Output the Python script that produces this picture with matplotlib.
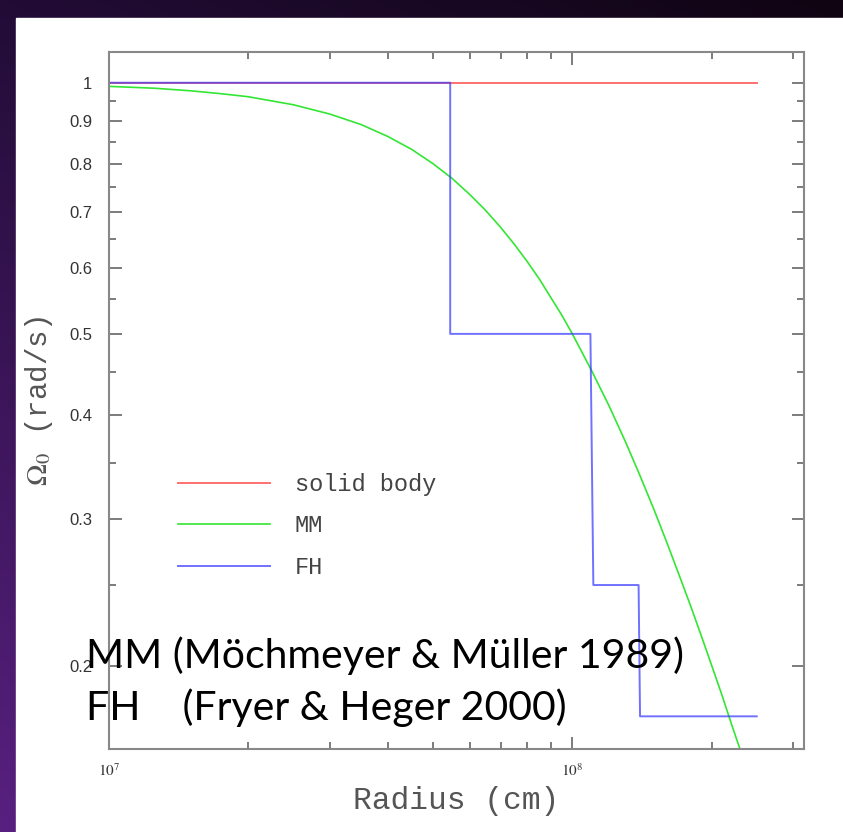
import numpy as np
import matplotlib
matplotlib.use("Agg")
import matplotlib.pyplot as plt
from matplotlib.patches import Rectangle
from matplotlib.ticker import FixedLocator, FixedFormatter, NullFormatter
from matplotlib.font_manager import FontProperties

plt.rcParams['mathtext.fontset'] = 'stix'

# solid body rotation: flat at 1 rad/s
solid_r = [1.0e7, 2.5e8]
solid_w = [1.0, 1.0]

# MM profile (radius in cm, omega in rad/s)
mm_r = [1.0e7, 1.25e7, 1.5e7, 1.75e7, 2.0e7, 2.5e7, 3.0e7, 3.5e7, 4.0e7, 4.5e7,
        5.0e7, 5.5e7, 6.0e7, 6.5e7, 7.0e7, 7.5e7, 8.0e7, 8.5e7, 9.0e7, 9.5e7,
        1.0e8, 1.1e8, 1.2e8, 1.3e8, 1.4e8, 1.5e8, 1.6e8, 1.7e8, 1.8e8, 1.9e8,
        2.0e8, 2.1e8, 2.2e8, 2.3e8, 2.4e8]
mm_w = [0.990, 0.985, 0.978, 0.970, 0.962, 0.941, 0.917, 0.891, 0.862, 0.832,
        0.800, 0.768, 0.735, 0.703, 0.671, 0.640, 0.610, 0.581, 0.552, 0.526,
        0.500, 0.452, 0.410, 0.372, 0.338, 0.308, 0.281, 0.257, 0.236, 0.217,
        0.200, 0.185, 0.171, 0.159, 0.148]

# FH step profile
fh_r = [1.0e7, 5.45e7, 5.45e7, 1.094e8, 1.11e8, 1.39e8, 1.40e8, 2.5e8]
fh_w = [1.0, 1.0, 0.5, 0.5, 0.25, 0.25, 0.174, 0.174]

labels = ['solid body', 'MM', 'FH']

x_major = [1e7, 1e8]
x_tick_labels = [r'$10^{7}$', r'$10^{8}$']
y_major = [0.2, 0.3, 0.4, 0.5, 0.6, 0.7, 0.8, 0.9, 1.0]
y_tick_labels = ['0.2', '0.3', '0.4', '0.5', '0.6', '0.7', '0.8', '0.9', '1']
y_minor = [0.25, 0.35, 0.45, 0.55, 0.65, 0.75, 0.85, 0.95]

W, H = 843, 832
fig = plt.figure(figsize=(W / 100, H / 100), dpi=100)

# slide background: purple gradient with a white panel on top
bg = fig.add_axes([0, 0, 1, 1], zorder=-10)
tl = np.array([0x22, 0x0c, 0x36]) / 255
tr = np.array([0x10, 0x04, 0x12]) / 255
bl = np.array([0x58, 0x20, 0x80]) / 255
br = np.array([0x3a, 0x10, 0x50]) / 255
u = np.linspace(0, 1, 200)[None, :, None]
v = np.linspace(0, 1, 200)[:, None, None]
grad = (1 - v) * ((1 - u) * tl + u * tr) + v * ((1 - u) * bl + u * br)
bg.imshow(grad, extent=[0, 1, 0, 1], aspect='auto', origin='upper')
bg.add_patch(Rectangle((16 / W, 0), 1 - 16 / W, 1 - 18 / H, color='white'))
bg.set_xlim(0, 1)
bg.set_ylim(0, 1)
bg.axis('off')

ax = fig.add_axes([109 / W, 1 - 749 / H, (804 - 109) / W, (749 - 51.5) / H])
ax.set_facecolor('white')

l1, = ax.plot(solid_r, solid_w, color='#ff7070', lw=1.4)
l2, = ax.plot(mm_r, mm_w, color='#33e633', lw=1.2)
l3, = ax.plot(fh_r, fh_w, color='#3a3aff', lw=1.4, alpha=0.72)

ax.set_xscale('log')
ax.set_yscale('log')
ax.set_xlim(1e7, 10 ** 8.5)
ax.set_ylim(0.159, 1.09)

ax.xaxis.set_major_locator(FixedLocator(x_major))
ax.xaxis.set_major_formatter(FixedFormatter(x_tick_labels))
ax.xaxis.set_minor_formatter(NullFormatter())
ax.yaxis.set_major_locator(FixedLocator(y_major))
ax.yaxis.set_major_formatter(FixedFormatter(y_tick_labels))
ax.yaxis.set_minor_locator(FixedLocator(y_minor))
ax.yaxis.set_minor_formatter(NullFormatter())

ax.tick_params(which='both', direction='in', top=True, right=True, color='#666', width=1.2)
ax.tick_params(which='major', length=9)
ax.tick_params(which='minor', length=5)
ax.tick_params(axis='y', which='major', pad=12, labelsize=12, labelcolor='#333')
ax.tick_params(axis='x', which='major', pad=10, labelsize=11, labelcolor='#333')
for lab in ax.get_yticklabels():
    lab.set_family('Liberation Sans')
for s in ax.spines.values():
    s.set_color('#888')
    s.set_linewidth(1.5)

ax.set_xlabel('Radius (cm)', fontproperties=FontProperties(family='Liberation Mono', size=22.5),
              color='#555', labelpad=5)
ax.set_ylabel(r'$\Omega_0$ (rad/s)', fontproperties=FontProperties(family='Liberation Mono', size=21),
              color='#555', labelpad=10)

ax.legend([l1, l2, l3], labels, loc='upper left',
          bbox_to_anchor=(178 / W, 1 - 473 / H), bbox_transform=fig.transFigure,
          frameon=False, borderpad=0, borderaxespad=0, handlelength=3.9,
          handletextpad=1.05, labelspacing=0.78, labelcolor='#444',
          prop=FontProperties(family='Liberation Mono', size=17))

note_font = dict(family='Lato', size=29.5, color='black', zorder=10)
fig.text(86 / W, 1 - 668 / H, 'MM (Möchmeyer & Müller 1989)', va='baseline', **note_font)
fig.text(86 / W, 1 - 720 / H, 'FH    (Fryer & Heger 2000)', va='baseline', **note_font)

fig.savefig('out.png', dpi=100)
